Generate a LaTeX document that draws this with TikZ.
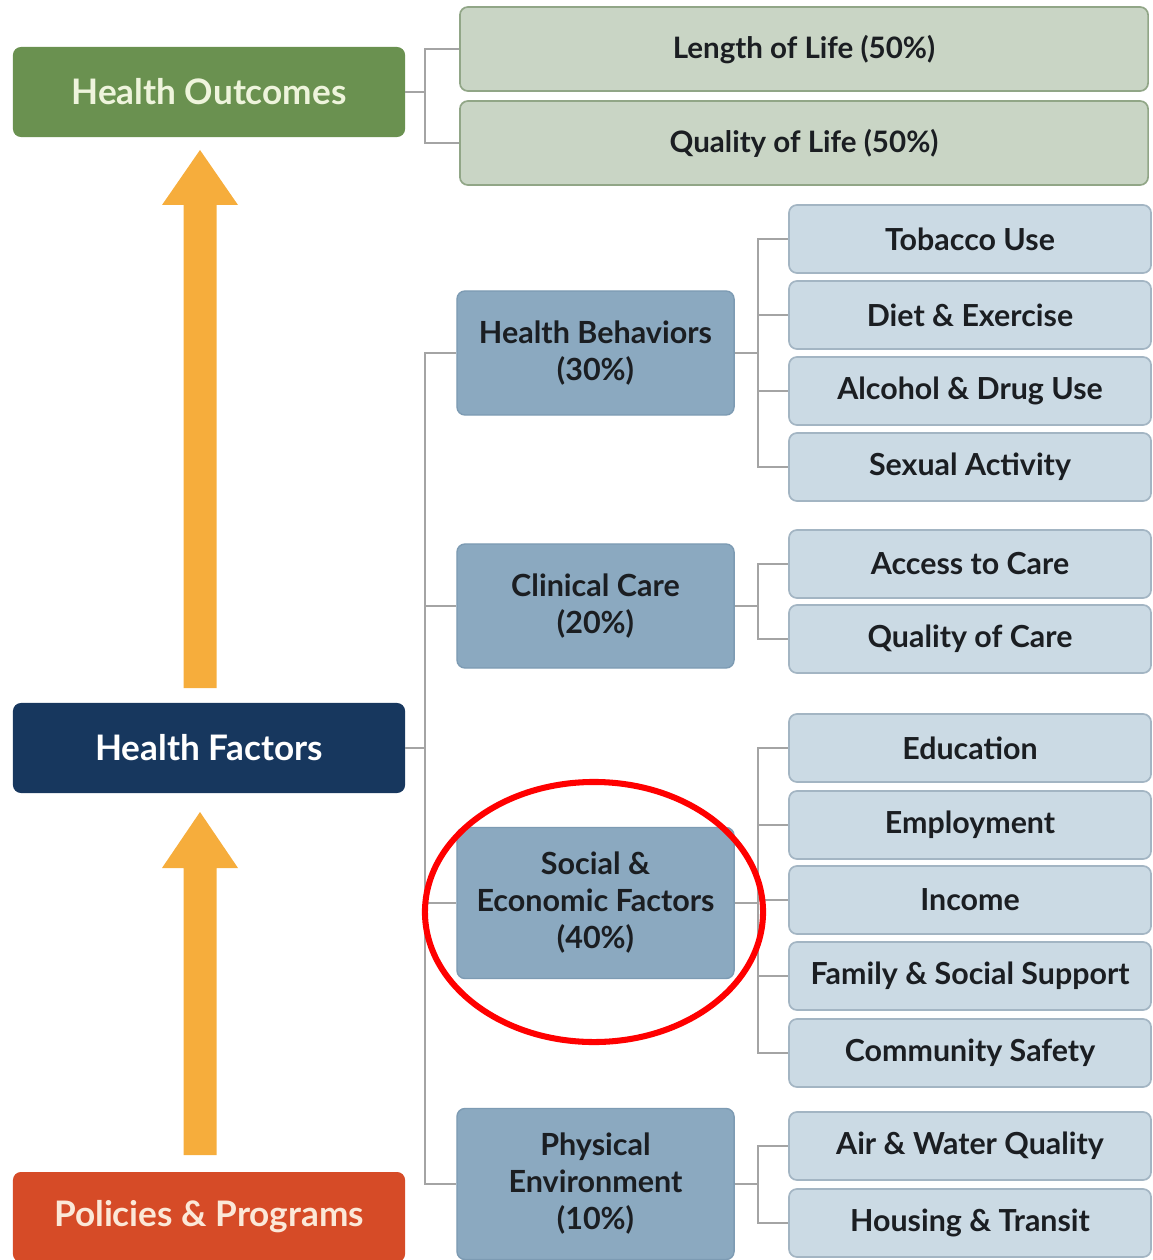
\documentclass[tikz,border=0pt]{standalone}
\usepackage{fontspec}
\setmainfont{Lato}
\usepackage{tikz}
\usetikzlibrary{calc}
\definecolor{outgreen}{HTML}{6A9150}
\definecolor{outtext}{HTML}{EEF4DC}
\definecolor{factnavy}{HTML}{17375E}
\definecolor{polred}{HTML}{D64B27}
\definecolor{poltext}{HTML}{FBE8D8}
\definecolor{arroworange}{HTML}{F6AD3C}
\definecolor{lifefill}{HTML}{C9D5C5}
\definecolor{lifeline}{HTML}{91A687}
\definecolor{midfill}{HTML}{8BA9C0}
\definecolor{midline}{HTML}{7D9BB3}
\definecolor{leaffill}{HTML}{CBDAE4}
\definecolor{leafline}{HTML}{A3B5C3}
\definecolor{linkgray}{HTML}{A4A4A4}
\definecolor{inkdark}{HTML}{1B1E22}
\tikzset{
  mainbox/.style={rounded corners=0.2cm, inner sep=0pt, minimum width=9.8cm,
    minimum height=2.25cm, font=\fontsize{25}{30}\selectfont\bfseries},
  lifebox/.style={rounded corners=0.2cm, inner sep=0pt, draw=lifeline, line width=1.2pt,
    fill=lifefill, text=inkdark, minimum width=17.2cm, minimum height=2.1cm,
    font=\fontsize{21}{25}\selectfont\bfseries},
  midbox/.style={rounded corners=0.2cm, inner sep=0pt, draw=midline, line width=1pt,
    fill=midfill, text=inkdark, minimum width=6.925cm, align=center,
    font=\fontsize{21.7}{26.3}\selectfont\bfseries},
  leafbox/.style={rounded corners=0.2cm, inner sep=0pt, draw=leafline, line width=1.2pt,
    fill=leaffill, text=inkdark, minimum width=9.05cm, minimum height=1.7cm,
    font=\fontsize{21.6}{26}\selectfont\bfseries},
  link/.style={draw=linkgray, line width=1.4pt},
  upshaft/.style={fill=arroworange},
  redring/.style={draw=red, line width=4.3pt}
}
% fat upward arrow: x centre, bottom, head base, tip
\newcommand{\fatarrow}[4]{\fill[upshaft] (#1-16.5,#2) -- (#1-16.5,#3) -- (#1-38,#3) -- (#1,#4)
  -- (#1+38,#3) -- (#1+16.5,#3) -- (#1+16.5,#2) -- cycle;}

\begin{document}
\begin{tikzpicture}[x=0.025cm, y=-0.025cm]
\useasboundingbox (0,0) rectangle (1152,1260);
% left column
\node[mainbox, fill=outgreen, text=outtext] (ho) at (209,92) {Health Outcomes};
\node[mainbox, fill=factnavy, text=white] (hf) at (209,748) {Health Factors};
\node[mainbox, fill=polred, text=poltext] (pp) at (209,1217) {Policies \& Programs};
\fatarrow{200}{688}{205}{150}
\fatarrow{200}{1155}{868}{812}
% outcomes
\node[lifebox, text depth=0pt, text height=13pt] (ll) at (804,49) {Length of Life (50\%)};
\node[lifebox] (ql) at (804,143) {Quality of Life (50\%)};
% factors
\node[midbox, minimum height=3.1cm] (hb) at (595.5,353) {Health Behaviors\\(30\%)};
\node[midbox, minimum height=3.1cm] (cc) at (595.5,606) {Clinical Care\\(20\%)};
\node[midbox, minimum height=3.775cm] (se) at (595.5,903) {Social \&\\Economic Factors\\(40\%)};
\node[midbox, minimum height=3.775cm] (pe) at (595.5,1184) {Physical\\Environment\\(10\%)};
% leaves
\node[leafbox] (tu) at (970,239) {Tobacco Use};
\node[leafbox] (de) at (970,315) {Diet \& Exercise};
\node[leafbox] (ad) at (970,391) {Alcohol \& Drug Use};
\node[leafbox] (sa) at (970,467) {Sexual Activity};
\node[leafbox] (ac) at (970,564) {Access to Care};
\node[leafbox] (qc) at (970,639) {Quality of Care};
\node[leafbox] (ed) at (970,748) {Education};
\node[leafbox] (em) at (970,825) {Employment};
\node[leafbox] (in) at (970,900) {Income};
\node[leafbox] (fs) at (970,976) {Family \& Social Support};
\node[leafbox] (cs) at (970,1053) {Community Safety};
\node[leafbox] (aw) at (970,1146) {Air \& Water Quality};
\node[leafbox] (ht) at (970,1223) {Housing \& Transit};
% brackets
\foreach \c in {ll,ql} \draw[link] (ho.east) -- ++(20,0) |- (\c.west);
\foreach \c in {hb,cc,se,pe} \draw[link] (hf.east) -- ++(20,0) |- (\c.west);
\foreach \c in {tu,de,ad,sa} \draw[link] (hb.east) -- ++(23,0) |- (\c.west);
\foreach \c in {ac,qc} \draw[link] (cc.east) -- ++(23,0) |- (\c.west);
\foreach \c in {ed,em,in,fs,cs} \draw[link] (se.east) -- ++(23,0) |- (\c.west);
\foreach \c in {aw,ht} \draw[link] (pe.east) -- ++(23,0) |- (\c.west);
% highlight
\draw[redring] (594,912) ellipse [x radius=4.225cm, y radius=3.25cm];
\end{tikzpicture}
\end{document}
